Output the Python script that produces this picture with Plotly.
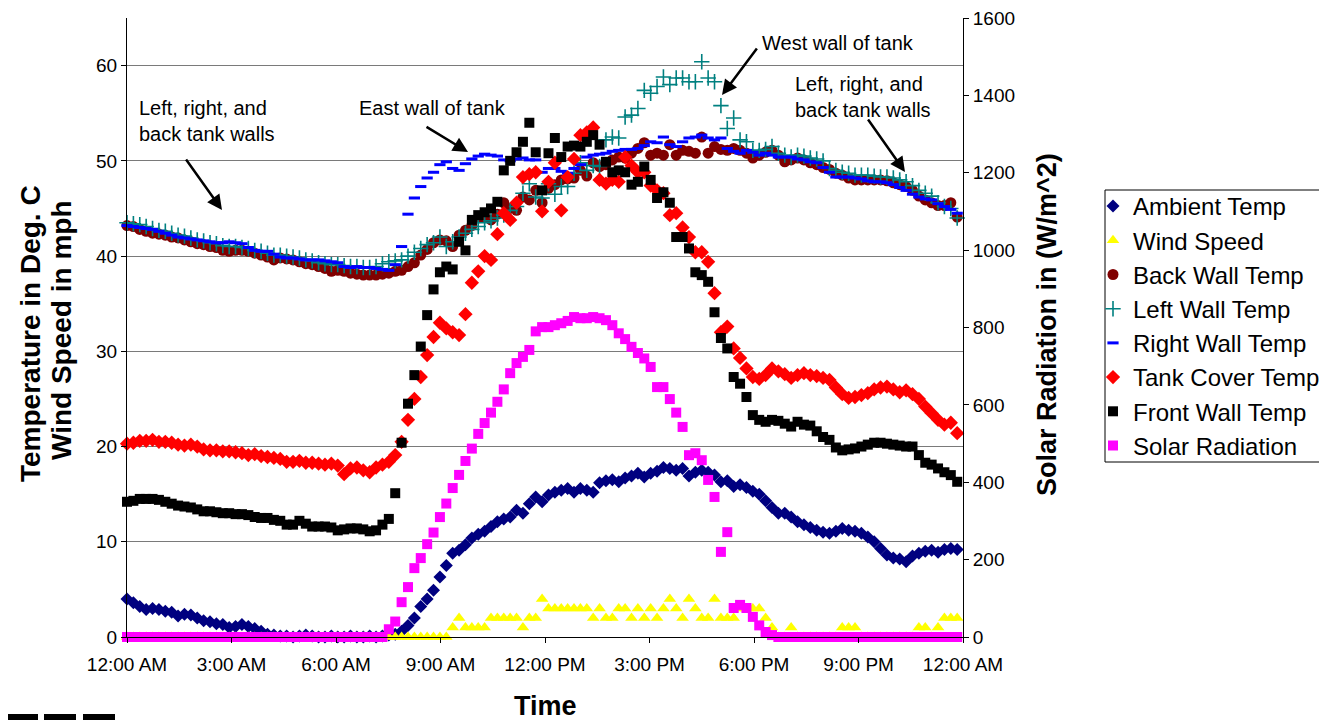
import plotly.graph_objects as go
import pandas as pd

# ---------------- data ----------------
n_points = 131
times = pd.date_range("2000-01-01 00:00", periods=n_points, freq="11min")
x_start = "2000-01-01 00:00"
x_end = "2000-01-02 00:00"

tick_times = pd.date_range("2000-01-01 00:00", periods=9, freq="3h")
tick_labels = ["12:00 AM", "3:00 AM", "6:00 AM", "9:00 AM", "12:00 PM",
               "3:00 PM", "6:00 PM", "9:00 PM", "12:00 AM"]
temp_ticks = [0, 10, 20, 30, 40, 50, 60]
solar_ticks = [0, 200, 400, 600, 800, 1000, 1200, 1400, 1600]

ambient_temp = [
    4.0, 3.6, 3.2, 2.9, 3.0, 2.9, 2.7, 2.6, 2.2, 2.4, 2.3, 2.0, 1.7, 1.6, 1.4, 1.3, 1.0, 1.1, 1.3, 1.1, 0.9, 0.6, 0.3,
    0.2, 0.1, 0.1, 0.0, 0.1, 0.2, 0.1, 0.0, 0.0, 0.1, 0.0, 0.0, 0.1, 0.0, 0.0, 0.1, 0.0, 0.1,
    0.2, 0.3, 0.6, 1.2, 2.0, 3.2, 4.0, 4.9, 6.3, 7.5, 8.8, 9.1, 9.7, 10.4, 10.8, 11.1, 11.6, 12.1, 12.4, 12.6,
    13.3, 13.0, 14.0, 14.7, 14.2, 14.9, 15.2, 15.4, 15.6, 15.2, 15.6, 15.4, 15.2, 16.2, 16.4, 16.5, 16.3, 16.7, 16.9, 17.2,
    16.8, 17.2, 17.4, 17.8, 17.7, 17.5, 17.7, 16.9, 17.3, 17.5, 17.3, 17.0, 16.3, 16.4, 15.8, 16.0, 15.7, 15.3, 15.0, 14.3,
    13.6, 13.0, 13.0, 12.6, 12.1, 11.8, 11.5, 11.2, 11.0, 10.9, 11.1, 11.4, 11.2, 11.1, 10.9, 10.5, 10.0, 9.3, 8.6, 8.3,
    8.2, 7.9, 8.5, 8.8, 9.0, 9.1, 8.9, 9.2, 9.3, 9.2,
]

wind_speed = (
    [0] * 51
    + [1, 2, 1, 1, 1, 1, 2, 2, 2, 2, 2, 1, 2, 2]
    + [4, 3, 3, 3, 3, 3, 3, 3, 2, 3, 2, 2, 3, 3, 2, 3]
    + [2, 3, 2, 3, 4, 3, 2, 4, 3, 2, 2, 4, 2, 2, 2, 3, 3, 3, 3, 2, 1]
    + [0, 0, 1, 0, 0, 0, 0, 0, 0, 0, 1, 1, 1, 0, 0, 0, 0, 0, 0, 0, 0, 0, 1, 1, 0, 1, 2, 2, 2]
)

back_wall = [
    43.2, 43.1, 42.8, 42.6, 42.4, 42.3, 42.2, 42.0, 41.9, 41.7, 41.5, 41.3, 41.2, 41.0, 40.9, 40.6, 40.5, 40.6, 40.6, 40.5, 40.3,
    40.1, 39.9, 39.6, 39.8, 39.7, 39.6, 39.4, 39.2, 39.1, 38.9, 38.7, 38.4, 38.5, 38.4, 38.2, 38.1, 38.0, 38.0, 38.0, 38.1,
    38.2, 38.4, 38.5, 38.9, 39.3, 40.1, 40.7, 41.4, 41.7, 41.6, 41.0, 42.2, 42.7, 43.2, 44.0, 44.1, 43.8, 44.4, 45.6, 45.0,
    44.8, 46.2, 45.9, 46.9, 45.6, 47.1, 47.5, 48.0, 48.1, 48.2, 49.0, 48.4, 49.8, 49.4, 49.6, 50.1, 50.4, 50.3, 50.8, 51.3,
    51.9, 50.6, 50.8, 50.6, 51.7, 50.6, 51.1, 51.0, 50.8, 52.5, 50.8, 51.5, 51.2, 51.1, 51.3, 51.1, 50.8, 50.3, 50.6, 50.9,
    51.1, 50.6, 49.9, 50.1, 50.3, 50.1, 49.8, 49.6, 49.3, 49.1, 48.7, 48.5, 48.2, 48.0, 48.0, 48.0, 48.0, 48.0, 47.9, 47.7,
    47.5, 47.3, 46.9, 46.3, 45.9, 45.6, 45.3, 45.3, 45.6, 44.1,
]

left_wall = [
    43.5, 43.4, 43.3, 43.1, 42.9, 42.7, 42.6, 42.4, 42.2, 42.1, 41.9, 41.7, 41.6, 41.4, 41.3, 41.1, 41.0, 41.0, 40.9, 40.8, 40.6,
    40.5, 40.3, 40.1, 40.1, 40.0, 39.9, 39.8, 39.6, 39.5, 39.3, 39.2, 39.1, 39.1, 39.0, 38.9, 38.9, 38.8, 38.8, 38.9, 39.2,
    39.4, 39.5, 39.6, 40.0, 40.4, 40.8, 41.2, 41.4, 42.0, 41.0, 41.5, 42.0, 42.4, 42.8, 43.1, 43.5, 43.7, 44.0, 44.3, 44.8,
    45.2, 46.6, 47.6, 46.2, 46.1, 47.6, 46.5, 47.3, 47.3, 48.7, 49.8, 49.0, 49.5, 49.4, 52.2, 52.5, 52.4, 54.6, 54.8, 55.5,
    57.4, 57.1, 57.8, 58.8, 58.0, 58.7, 58.7, 58.3, 58.3, 60.4, 58.7, 58.3, 55.8, 53.4, 54.5, 52.2, 52.0, 51.1, 51.1, 51.2,
    51.5, 50.8, 50.6, 50.4, 50.6, 50.5, 50.3, 50.2, 50.0, 49.2, 49.0, 48.8, 48.7, 48.5, 48.5, 48.5, 48.4, 48.3, 48.3, 48.2,
    48.0, 47.8, 47.4, 46.9, 46.6, 46.3, 45.6, 45.2, 45.0, 44.0,
]

right_wall = [
    43.2, 43.1, 43.0, 42.9, 42.8, 42.6, 42.4, 42.2, 42.0, 41.9, 41.8, 41.7, 41.6, 41.5, 41.4, 41.4, 41.5, 41.4, 41.3, 40.9, 40.6,
    40.5, 40.5, 40.2, 39.9, 39.8, 39.8, 39.7, 39.6, 39.6, 39.6, 39.5, 39.4, 39.3, 38.9, 38.8, 38.9, 38.8, 38.8, 38.7, 38.6,
    38.5, 39.1, 41.0, 44.4, 46.1, 47.3, 48.2, 48.8, 49.6, 49.9, 49.2, 49.0, 49.7, 50.2, 50.5, 50.7, 50.6, 50.5, 50.1, 50.0,
    50.2, 50.3, 50.1, 50.1, 48.8, 49.2, 49.2, 48.9, 48.7, 49.2, 49.6, 50.4, 50.6, 50.7, 50.8, 51.0, 51.1, 51.2, 51.2, 51.3,
    51.6, 52.0, 51.9, 52.5, 51.7, 51.5, 52.0, 52.4, 52.5, 52.7, 52.4, 52.2, 52.4, 51.3, 51.0, 50.8, 51.1, 50.9, 50.6, 50.8,
    50.6, 50.4, 50.4, 50.4, 50.2, 50.1, 49.9, 49.8, 49.3, 48.8, 48.3, 48.3, 48.3, 48.2, 48.1, 47.9, 47.8, 47.8, 47.7, 47.5,
    47.2, 46.9, 46.5, 46.2, 46.0, 45.9, 45.5, 45.2, 44.9, 44.5,
]

tank_cover = [
    20.3, 20.4, 20.6, 20.6, 20.7, 20.5, 20.5, 20.4, 20.2, 20.1, 20.2, 20.0, 19.7, 19.6, 19.6, 19.5, 19.5, 19.4, 19.3, 19.1, 19.2,
    19.0, 18.9, 18.8, 18.7, 18.4, 18.4, 18.5, 18.3, 18.3, 18.2, 18.1, 18.2, 18.0, 17.1, 17.7, 17.8, 17.5, 17.3, 17.8, 18.1, 18.4,
    19.1, 20.5, 22.8, 25.0, 27.3, 29.6, 31.5, 33.0, 32.4, 32.0, 31.7, 33.9, 37.2, 38.4, 40.0, 39.6, 42.3, 44.5, 43.8, 45.6,
    48.3, 48.6, 48.8, 44.7, 47.8, 49.8, 44.8, 48.3, 50.2, 52.7, 53.0, 53.5, 48.0, 47.6, 48.0, 47.8, 50.4, 49.5, 48.8, 48.8,
    47.4, 46.9, 46.6, 44.3, 44.5, 43.0, 42.0, 40.4, 40.4, 39.4, 36.1, 32.0, 32.6, 30.3, 29.3, 28.2, 27.3, 27.1, 27.5, 28.2,
    27.9, 27.6, 27.2, 27.5, 27.7, 27.5, 27.4, 27.2, 27.0, 26.2, 25.5, 25.1, 25.2, 25.4, 25.6, 26.0, 26.2, 26.3, 26.0, 25.7,
    25.9, 25.5, 25.0, 24.2, 23.5, 22.8, 22.3, 22.5, 21.4,
]

front_wall = [
    14.2, 14.3, 14.5, 14.5, 14.5, 14.4, 14.2, 14.0, 13.8, 13.7, 13.6, 13.4, 13.2, 13.2, 13.1, 13.0, 13.0, 12.9, 12.9, 12.8, 12.6,
    12.5, 12.5, 12.3, 12.2, 11.8, 11.8, 12.2, 11.9, 11.6, 11.6, 11.6, 11.5, 11.2, 11.3, 11.4, 11.4, 11.3, 11.1, 11.2, 11.8, 12.4,
    15.1, 20.4, 24.5, 27.5, 30.5, 33.8, 36.5, 38.3, 38.9, 38.6, 41.5, 40.6, 43.8, 44.3, 44.6, 45.0, 45.7, 49.0, 50.0, 50.9,
    52.0, 54.0, 50.9, 46.9, 50.8, 52.4, 50.4, 51.5, 51.6, 51.5, 52.0, 52.7, 51.7, 49.9, 48.8, 49.0, 48.8, 47.5, 47.8, 49.4,
    48.0, 46.1, 46.7, 45.6, 42.0, 42.0, 40.8, 38.3, 38.0, 37.3, 34.1, 31.4, 30.3, 27.3, 26.6, 25.2, 23.3, 22.8, 22.6, 22.8,
    22.7, 22.4, 22.1, 22.6, 22.3, 22.2, 21.6, 21.0, 20.7, 19.9, 19.6, 19.7, 19.8, 20.0, 20.2, 20.4, 20.4, 20.3, 20.2, 20.1,
    20.0, 20.0, 19.1, 18.3, 18.1, 17.7, 17.3, 17.0, 16.3,
]

solar_radiation = (
    [0] * 41
    + [20, 40, 90, 129, 178, 204, 240, 270, 310, 345, 385, 419, 455, 487, 525, 553, 580, 608, 640, 682,
       708, 724, 742, 790, 801, 801, 806, 811, 817, 827, 824, 824, 827, 824, 819, 806, 785, 770, 750, 734,
       720, 698, 646, 646, 615, 580, 543, 470, 475, 457, 406, 362, 220, 271, 75, 83, 75, 52, 30, 13, 5]
    + [0] * 29
)

# ---------------- figure ----------------
FONT = "Arial, 'Liberation Sans', sans-serif"
fig = go.Figure()


def add_series(name, values, symbol, color, size, yaxis="y", line_width=0):
    fig.add_trace(go.Scatter(
        x=times, y=values, name=name, mode="markers", yaxis=yaxis, cliponaxis=False,
        marker=dict(symbol=symbol, color=color, size=size,
                    line=dict(width=line_width, color=color)),
    ))


NBSP = "\u00a0"
add_series("Ambient Temp", ambient_temp, "diamond", "#000080", 10)
add_series("Wind Speed", wind_speed, "triangle-up", "#FFFF00", 11)
add_series("Back Wall Temp", back_wall, "circle", "#800000", 11)
add_series("Left Wall Temp", left_wall, "cross-thin", "#008080", 11, line_width=1.6)
add_series("Right Wall Temp", right_wall, "line-ew", "#0000FF", 8, line_width=3)
add_series("Tank Cover Temp" + NBSP, tank_cover, "diamond", "#FF0000", 11)
add_series("Front Wall Temp", front_wall, "square", "#000000", 10)
add_series("Solar Radiation", solar_radiation, "square", "#FF00FF", 10, yaxis="y2")

# page pixel -> paper coordinates (plot area spans page x 127..963, y 18..637)
PLOT_L, PLOT_R, PLOT_T, PLOT_B = 127, 963, 18, 637
PAGE_OFFSET = 8  # default body margin of the html page


def px_x(px):
    return (px - PLOT_L) / float(PLOT_R - PLOT_L)


def px_y(py):
    return (PLOT_B - py) / float(PLOT_B - PLOT_T)


annotations = []
annotations.append(dict(text="Left, right, and<br>back tank walls", x=px_x(137), y=px_y(121.5),
                        xanchor="left", yanchor="middle", align="left", showarrow=False,
                        font=dict(size=20)))
annotations.append(dict(text="East wall of tank", x=px_x(432.5), y=px_y(108),
                        xanchor="center", yanchor="middle", showarrow=False, font=dict(size=20)))
annotations.append(dict(text="West wall of tank", x=px_x(837.5), y=px_y(43),
                        xanchor="center", yanchor="middle", showarrow=False, font=dict(size=20)))
annotations.append(dict(text="Left, right, and<br>back tank walls", x=px_x(793), y=px_y(96.5),
                        xanchor="left", yanchor="middle", align="left", showarrow=False,
                        font=dict(size=20)))
for hx, hy, ax, ay in [(222, 210, -37, -52), (468, 152, -43, -26), (722, 95, 36, -48), (905, 172, -38, -54)]:
    annotations.append(dict(text="", x=px_x(hx), y=px_y(hy),
                            showarrow=True, ax=ax, ay=ay, arrowhead=2, arrowsize=1.2,
                            arrowwidth=2.5, arrowcolor="black"))
annotations.append(dict(text="<b>Temperature in Deg. C</b>", x=px_x(30), y=px_y(334), textangle=-90,
                        showarrow=False, xanchor="center", yanchor="middle", font=dict(size=28)))
annotations.append(dict(text="<b>Wind Speed in mph</b>", x=px_x(62), y=px_y(330), textangle=-90,
                        showarrow=False, xanchor="center", yanchor="middle", font=dict(size=28)))
annotations.append(dict(text="<b>Solar Radiation in (W/m^2)</b>", x=px_x(1047), y=px_y(325), textangle=-90,
                        showarrow=False, xanchor="center", yanchor="middle", font=dict(size=27)))
annotations.append(dict(text="<b>Time</b>", x=px_x(545), y=px_y(706), showarrow=False,
                        xanchor="center", yanchor="middle", font=dict(size=27)))
for a in annotations:
    a.setdefault("xref", "paper")
    a.setdefault("yref", "paper")

shapes = [
    dict(type="rect", xref="paper", yref="paper", x0=px_x(1105), x1=px_x(1340), y0=px_y(462), y1=px_y(190),
         line=dict(color="black", width=1), fillcolor="rgba(0,0,0,0)"),
]
for x0, x1 in [(6, 38), (44, 76), (83, 115)]:
    shapes.append(dict(type="rect", xref="paper", yref="paper", x0=px_x(x0), x1=px_x(x1),
                       y0=px_y(724), y1=px_y(714), line=dict(width=0), fillcolor="black"))

W, H = 1327 - PAGE_OFFSET, 720 - PAGE_OFFSET
fig.update_layout(
    width=W, height=H,
    margin=dict(l=PLOT_L - PAGE_OFFSET, r=W - (PLOT_R - PAGE_OFFSET), t=PLOT_T - PAGE_OFFSET,
                b=H - (PLOT_B - PAGE_OFFSET), autoexpand=False),
    paper_bgcolor="white", plot_bgcolor="white",
    font=dict(family=FONT, size=19, color="black"),
    showlegend=True,
    legend=dict(x=px_x(1093), y=px_y(184), xanchor="left", yanchor="top",
                font=dict(size=24), bgcolor="rgba(0,0,0,0)", borderwidth=0),
    xaxis=dict(type="date", range=[x_start, x_end], tickmode="array",
               tickvals=list(tick_times), ticktext=tick_labels,
               showline=True, linecolor="black", linewidth=1, ticks="outside", ticklen=5,
               tickcolor="black", showgrid=False, zeroline=False, tickfont=dict(size=19),
               ticklabeloverflow="allow", ticklabelstandoff=5),
    yaxis=dict(range=[0, 65], tickmode="array", tickvals=temp_ticks, showline=True, linecolor="black",
               linewidth=1, ticks="outside", ticklen=5, tickcolor="black", showgrid=True,
               gridcolor="#7a7a7a", gridwidth=1, zeroline=False, tickfont=dict(size=19),
               ticklabeloverflow="allow"),
    yaxis2=dict(range=[0, 1600], tickmode="array", tickvals=solar_ticks, overlaying="y", side="right",
                showline=True, linecolor="black", linewidth=1, ticks="outside", ticklen=5,
                tickcolor="black", showgrid=False, zeroline=False, tickfont=dict(size=19),
                ticklabeloverflow="allow"),
    annotations=annotations,
    shapes=shapes,
)

fig.write_html("out.html")
